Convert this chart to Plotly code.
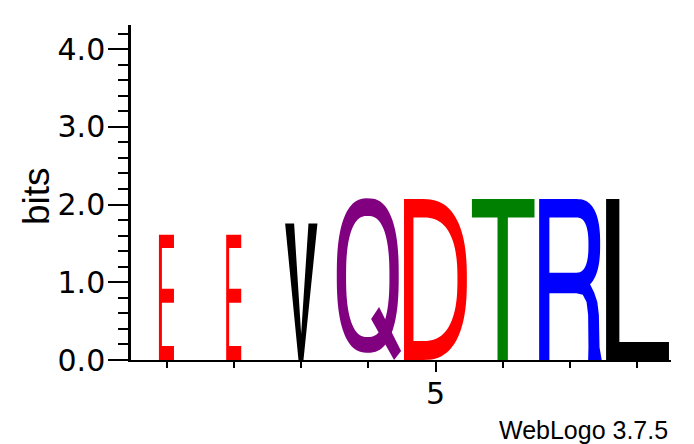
import numpy as np
import plotly.graph_objects as go

# ---- data ----
positions = [1, 2, 3, 4, 5, 6, 7, 8]
letters = ["E", "E", "V", "Q", "D", "T", "R", "L"]
heights = [1.61, 1.61, 1.755, 2.08, 2.07, 2.07, 2.07, 2.07]
x_tick_labels = {5: "5"}
y_tick_values = [0, 1, 2, 3, 4]
y_tick_labels = ["0.0", "1.0", "2.0", "3.0", "4.0"]

# ---- style ----
letter_colors = {"E": "#ff0000", "D": "#ff0000", "V": "#000000", "L": "#000000",
                 "Q": "#800080", "T": "#008000", "R": "#0000ff"}
FONT = "Liberation Sans, Arial, Helvetica, sans-serif"
TICK_FONT = "DejaVu Sans, Liberation Sans, Arial, sans-serif"
BOX_W = 0.94  # glyph box width in position units


def sell(cx, cy, rx, ry, a0, a1, n=48, p=2.5):
    t = np.radians(np.linspace(a0, a1, n))
    c, s = np.cos(t), np.sin(t)
    x = cx + rx * np.sign(c) * np.abs(c) ** (2.0 / p)
    y = cy + ry * np.sign(s) * np.abs(s) ** (2.0 / p)
    return list(zip(x, y))


# glyph outlines in a unit box (u: 0..1 across, v: 0..1 up); list of contours
def glyph(letter):
    if letter == "E":
        a, b, s = 0.378, 0.616, 0.425
        return [[(a, 0), (b, 0), (b, 0.112), (s, 0.112), (s, 0.458), (b, 0.458), (b, 0.570),
                 (s, 0.570), (s, 0.896), (b, 0.896), (b, 1), (a, 1)]]
    if letter == "V":
        return [[(0.458, 0), (0.537, 0), (0.758, 1), (0.616, 1), (0.5, 0.19), (0.389, 1), (0.247, 1)]]
    if letter == "Q":
        outer = sell(0.49, 0.5225, 0.49, 0.4775, 0, 360, 96)
        inner = sell(0.49, 0.5165, 0.343, 0.3745, 0, 360, 96)
        return [outer, inner]
    if letter == "D":
        outer = [(0, 0), (0, 1)] + sell(0.3, 0.5, 0.694, 0.5, 90, -90)
        inner = [(0.149, 0.118), (0.149, 0.886)] + sell(0.3, 0.502, 0.545, 0.384, 90, -90)
        return [outer, inner]
    if letter == "T":
        return [[(0.01, 0.886), (0.01, 1), (1.0, 1), (1.0, 0.886), (0.579, 0.886), (0.579, 0),
                 (0.415, 0), (0.415, 0.886)]]
    if letter == "R":
        outer = ([(0.01, 0), (0.01, 1), (0.6, 1)] + sell(0.6, 0.72, 0.375, 0.28, 90, -60) +
                 [(0.88, 0.42), (0.93, 0.36), (0.955, 0.28), (0.965, 0.08), (1.0, 0.0),
                  (0.785, 0.0), (0.79, 0.08), (0.785, 0.28), (0.76, 0.36), (0.70, 0.405),
                  (0.6, 0.415), (0.172, 0.415), (0.172, 0)])
        inner = [(0.172, 0.543), (0.172, 0.886)] + sell(0.6, 0.7145, 0.19, 0.1715, 90, -90)
        return [outer, inner]
    if letter == "L":
        return [[(0.005, 0), (1.0, 0), (1.0, 0.112), (0.215, 0.112), (0.215, 1), (0.005, 1)]]
    return []


def glyph_extra(letter):
    if letter == "Q":  # tail
        return [[(0.543, 0.254), (0.669, 0.328), (1.017, 0.056), (0.906, 0.0)]]
    return []


def to_path(contours, pos, h):
    parts = []
    for c in contours:
        pts = [(pos - BOX_W / 2 + u * BOX_W, v * h) for u, v in c]
        parts.append("M" + "L".join(f"{x:.5f},{y:.5f}" for x, y in pts) + "Z")
    return " ".join(parts)


fig = go.Figure()
fig.add_trace(go.Scatter(x=positions, y=heights, mode="markers",
                         marker=dict(opacity=0), hoverinfo="skip", showlegend=False))

shapes = []
for pos, let, h in zip(positions, letters, heights):
    col = letter_colors[let]
    for cs in (glyph(let), glyph_extra(let)):
        if cs:
            shapes.append(dict(type="path", xref="x", yref="y", path=to_path(cs, pos, h),
                               fillcolor=col, fillrule="evenodd", line=dict(width=0),
                               layer="above"))

fig.update_layout(
    width=694, height=444,
    margin=dict(l=131, r=23, t=25, b=84),
    paper_bgcolor="white", plot_bgcolor="white",
    shapes=shapes,
    font=dict(family=FONT, color="black"),
    xaxis=dict(range=[0.47, 8.5], showgrid=False, zeroline=False,
               showline=True, linecolor="black", linewidth=2,
               tickmode="array", tickvals=list(x_tick_labels.keys()),
               ticktext=list(x_tick_labels.values()),
               ticks="outside", ticklen=10, tickwidth=2, tickcolor="black",
               ticklabelstandoff=-4,
               tickfont=dict(size=30, family=TICK_FONT),
               minor=dict(tickmode="array", tickvals=positions, ticks="outside",
                          ticklen=6, tickwidth=2, tickcolor="black", showgrid=False)),
    yaxis=dict(range=[0, 4.31], showgrid=False, zeroline=False,
               showline=True, linecolor="black", linewidth=2.5,
               tickmode="array", tickvals=y_tick_values, ticktext=y_tick_labels,
               ticks="outside", ticklen=20, tickwidth=2, tickcolor="black",
               ticklabelstandoff=-3,
               tickfont=dict(size=30, family=TICK_FONT),
               minor=dict(dtick=0.2, tick0=0, ticks="outside", ticklen=10,
                          tickwidth=2, tickcolor="black", showgrid=False)),
    annotations=[
        dict(text="bits", xref="paper", yref="paper", x=-0.176, y=(360 - 196) / 335,
             textangle=-90, showarrow=False, xanchor="center", yanchor="middle",
             font=dict(size=37, family=FONT)),
        dict(text="WebLogo 3.7.5", xref="paper", yref="paper", x=0.998, y=-0.2075,
             showarrow=False, xanchor="right", yanchor="middle",
             font=dict(size=25, family=FONT)),
    ],
)

fig.write_html("out.html")
